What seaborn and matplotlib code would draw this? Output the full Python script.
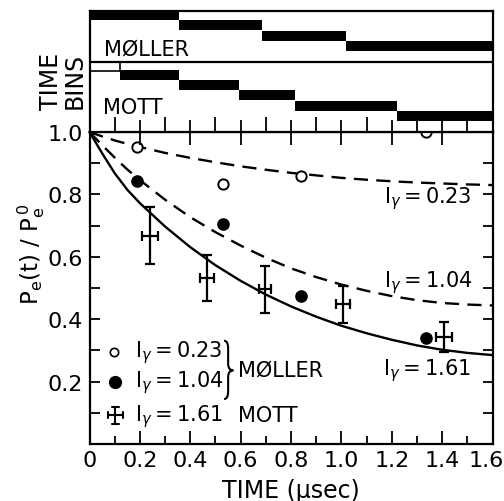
import numpy as np
import pandas as pd
import matplotlib
matplotlib.use("Agg")
import matplotlib.pyplot as plt
import matplotlib.transforms as mtransforms
import seaborn as sns
from matplotlib.path import Path
from matplotlib.patches import PathPatch

# ---------------- data ----------------
curve_t = [0, 0.05, 0.1, 0.15, 0.2, 0.3, 0.4, 0.5, 0.6, 0.7, 0.8, 0.9,
           1.0, 1.1, 1.2, 1.3, 1.4, 1.5, 1.6]
curve_023 = [1.0, 0.986, 0.973, 0.962, 0.952, 0.933, 0.917, 0.903, 0.89,
             0.879, 0.869, 0.861, 0.853, 0.847, 0.842, 0.838, 0.835, 0.832, 0.830]
curve_104 = [1.0, 0.958, 0.918, 0.88, 0.846, 0.783, 0.727, 0.679, 0.636,
             0.597, 0.563, 0.535, 0.511, 0.491, 0.474, 0.461, 0.452, 0.447, 0.444]
curve_161 = [1.0, 0.932, 0.868, 0.815, 0.772, 0.697, 0.631, 0.573, 0.523,
             0.479, 0.441, 0.408, 0.379, 0.355, 0.334, 0.316, 0.302, 0.292, 0.285]

moller_t = [0.189, 0.531, 0.84, 1.337]
moller_023 = [0.951, 0.833, 0.86, 1.0]
moller_104 = [0.844, 0.705, 0.475, 0.339]

mott_t = [0.24, 0.467, 0.696, 1.007, 1.407]
mott_161 = [0.668, 0.533, 0.496, 0.448, 0.343]
mott_yerr = [0.092, 0.074, 0.076, 0.06, 0.049]
mott_xerr = [0.032, 0.029, 0.025, 0.028, 0.033]

moller_bin_edges = [0, 0.354, 0.685, 1.019, 1.6]
mott_bin_edges = [0.123, 0.354, 0.593, 0.815, 1.221, 1.6]

x_ticks = [0, 0.2, 0.4, 0.6, 0.8, 1.0, 1.2, 1.4, 1.6]
x_ticklabels = ["0", "0.2", "0.4", "0.6", "0.8", "1.0", "1.2", "1.4", "1.6"]
y_ticks = [0.2, 0.4, 0.6, 0.8, 1.0]
y_ticklabels = ["0.2", "0.4", "0.6", "0.8", "1.0"]

intensity_labels = ["0.23", "1.04", "1.61"]

# ---------------- style ----------------
sns.set_theme(style="ticks")
plt.rcParams["font.family"] = ["DejaVu Sans"]
plt.rcParams["mathtext.fontset"] = "dejavusans"
plt.rcParams["axes.linewidth"] = 1.5
for k in ["text.color", "axes.labelcolor", "xtick.color", "ytick.color",
          "axes.edgecolor", "xtick.labelcolor", "ytick.labelcolor"]:
    plt.rcParams[k] = "black"

W, H = 504, 502
fig = plt.figure(figsize=(W / 100, H / 100), dpi=100)
fig.patch.set_facecolor("white")
L, R = 89.5, 492.5
ax = fig.add_axes([L / W, 1 - 445 / H, (R - L) / W, (445 - 133) / H])
axt = fig.add_axes([L / W, 1 - 133 / H, (R - L) / W, (133 - 12) / H])

FS = 16     # tick labels
TS = 15     # annotation text


def ilabel(v):
    return "I$_{\\gamma}$\u2009=\u2009" + v


# ---------------- main panel ----------------
curves = pd.DataFrame({"t": curve_t, "c023": curve_023,
                       "c104": curve_104, "c161": curve_161})
dash = (0, (6, 3.5))
sns.lineplot(data=curves, x="t", y="c023", ax=ax, color="black", lw=1.7,
             linestyle=dash, clip_on=False)
sns.lineplot(data=curves, x="t", y="c104", ax=ax, color="black", lw=1.7,
             linestyle=dash, clip_on=False)
sns.lineplot(data=curves, x="t", y="c161", ax=ax, color="black", lw=1.7,
             linestyle="-", clip_on=False)

mol = pd.DataFrame({"t": moller_t, "p023": moller_023, "p104": moller_104})
sns.scatterplot(data=mol, x="t", y="p023", ax=ax, s=55, facecolor="white",
                edgecolor="black", linewidth=1.4, zorder=5, clip_on=False)
sns.scatterplot(data=mol, x="t", y="p104", ax=ax, s=65, color="black",
                edgecolor="black", linewidth=1.0, zorder=5, clip_on=False)

ax.errorbar(mott_t, mott_161, xerr=mott_xerr, yerr=mott_yerr, fmt="none",
            ecolor="black", elinewidth=1.6, capsize=3.5, capthick=1.6, zorder=4)

ax.set_xlim(0, 1.6)
ax.set_ylim(0, 1.0)
ax.set_xticks(x_ticks)
ax.set_xticklabels(x_ticklabels)
ax.set_xticks(np.arange(0.1, 1.6, 0.2), minor=True)
ax.set_yticks(y_ticks)
ax.set_yticklabels(y_ticklabels)
ax.set_yticks(np.arange(0.1, 1.0, 0.2), minor=True)
ax.tick_params(axis="x", which="major", direction="in", length=9.5, width=1.3,
               labelsize=FS, pad=4, top=False, bottom=True)
ax.tick_params(axis="x", which="minor", direction="in", length=6, width=1.3,
               top=False, bottom=True)
ax.tick_params(axis="y", which="both", direction="in", length=7, width=1.3,
               left=True, right=True, labelsize=FS, pad=5)
last = ax.get_xticklabels()[-1]
last.set_transform(last.get_transform() +
                   mtransforms.ScaledTranslation(-6 / 100, 0, fig.dpi_scale_trans))
for s in ax.spines.values():
    s.set_color("black")
    s.set_linewidth(1.6)
ax.set_facecolor("white")

ax.set_xlabel("TIME (μsec)", fontsize=17, labelpad=6)
ax.set_ylabel(r"$\mathregular{P_e(t)\ /\ P_e^{\,0}}$", fontsize=16.5)
ax.yaxis.set_label_coords(-0.105, 0.61)

# curve labels
ax.text(0.732, 0.79, ilabel(intensity_labels[0]), transform=ax.transAxes,
        fontsize=TS, ha="left", va="center")
ax.text(0.732, 0.522, ilabel(intensity_labels[1]), transform=ax.transAxes,
        fontsize=TS, ha="left", va="center")
ax.text(0.728, 0.24, ilabel(intensity_labels[2]), transform=ax.transAxes,
        fontsize=TS, ha="left", va="center")

# legend (drawn by hand)
ax.plot([0.06], [0.295], "o", transform=ax.transAxes, ms=6, mfc="white",
        mec="black", mew=1.2, clip_on=False)
ax.plot([0.064], [0.200], "o", transform=ax.transAxes, ms=8.5, mfc="black",
        mec="black", clip_on=False)
cx, cy, hx, hy = 0.064, 0.092, 0.018, 0.027
for xs, ys in [([cx - hx, cx + hx], [cy, cy]),
               ([cx, cx], [cy - hy, cy + hy]),
               ([cx - hx, cx - hx], [cy - 0.01, cy + 0.01]),
               ([cx + hx, cx + hx], [cy - 0.01, cy + 0.01]),
               ([cx - 0.009, cx + 0.009], [cy + hy, cy + hy]),
               ([cx - 0.009, cx + 0.009], [cy - hy, cy - hy])]:
    ax.plot(xs, ys, color="black", lw=1.5, transform=ax.transAxes)

ax.text(0.113, 0.295, ilabel(intensity_labels[0]), transform=ax.transAxes,
        fontsize=TS, ha="left", va="center")
ax.text(0.113, 0.200, ilabel(intensity_labels[1]), transform=ax.transAxes,
        fontsize=TS, ha="left", va="center")
ax.text(0.113, 0.092, ilabel(intensity_labels[2]), transform=ax.transAxes,
        fontsize=TS, ha="left", va="center")
ax.text(0.368, 0.237, "MØLLER", transform=ax.transAxes, fontsize=TS,
        ha="left", va="center")
ax.text(0.368, 0.092, "MOTT", transform=ax.transAxes, fontsize=TS,
        ha="left", va="center")

x0, xm, xt = 0.334, 0.344, 0.357
yt, ym, yb = 0.331, 0.236, 0.144
verts = [(x0, yt), (xm, yt), (xm, yt - 0.025),
         (xm, ym + 0.022), (xm, ym), (xt, ym),
         (xm, ym), (xm, ym - 0.022),
         (xm, yb + 0.025), (xm, yb), (x0, yb)]
codes = [Path.MOVETO, Path.CURVE3, Path.CURVE3,
         Path.LINETO, Path.CURVE3, Path.CURVE3,
         Path.CURVE3, Path.CURVE3,
         Path.LINETO, Path.CURVE3, Path.CURVE3]
ax.add_patch(PathPatch(Path(verts, codes), transform=ax.transAxes,
                       fill=False, lw=1.5, edgecolor="black"))

# ---------------- top panel: time bins ----------------
axt.set_xlim(0, 1.6)
axt.set_ylim(133, 12)
m_left = moller_bin_edges[:-1]
m_width = np.diff(moller_bin_edges)
axt.barh([16 + 10.4 * k for k in range(len(m_left))], m_width, left=m_left,
         height=10, color="black", edgecolor="black", linewidth=0)
t_left = mott_bin_edges[:-1]
t_width = np.diff(mott_bin_edges)
axt.barh([76 + 10.2 * k for k in range(len(t_left))], t_width, left=t_left,
         height=10, color="black", edgecolor="black", linewidth=0)
axt.axhline(62.5, color="black", lw=1.6)
axt.plot([0, mott_bin_edges[0]], [71.5, 71.5], color="black", lw=1.2)
axt.plot([mott_bin_edges[0], mott_bin_edges[0]], [62.5, 72], color="black", lw=1.2)

axt.text(0.058, 50, "MØLLER", fontsize=TS, ha="left", va="center")
axt.text(0.054, 108, "MOTT", fontsize=TS, ha="left", va="center")

axt.set_xticks(x_ticks)
axt.set_xticks(np.arange(0.1, 1.6, 0.2), minor=True)
axt.set_xticklabels([])
axt.set_yticks([])
axt.tick_params(axis="x", which="major", direction="inout", length=18,
                width=1.3, bottom=True, top=False)
axt.tick_params(axis="x", which="minor", direction="in", length=11,
                width=1.3, bottom=True, top=False)
for s in axt.spines.values():
    s.set_color("black")
    s.set_linewidth(1.6)
axt.set_facecolor("white")

fig.text(63 / W, 1 - 81 / H, "TIME\nBINS", rotation=90, fontsize=17,
         ha="center", va="center", linespacing=0.95, multialignment="center")

fig.savefig("out.png", dpi=100, facecolor="white")
